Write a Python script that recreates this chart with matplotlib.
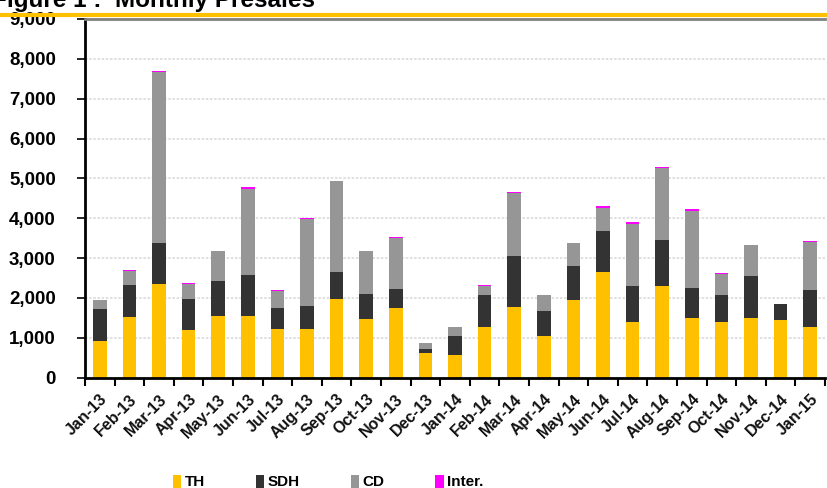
import matplotlib
matplotlib.use('Agg')
from matplotlib import pyplot as plt
from matplotlib.lines import Line2D
import numpy as np

plt.rcParams['font.family'] = ['Liberation Sans', 'DejaVu Sans']
plt.rcParams['font.weight'] = 'bold'

months = ['Jan-13', 'Feb-13', 'Mar-13', 'Apr-13', 'May-13', 'Jun-13', 'Jul-13',
          'Aug-13', 'Sep-13', 'Oct-13', 'Nov-13', 'Dec-13', 'Jan-14', 'Feb-14',
          'Mar-14', 'Apr-14', 'May-14', 'Jun-14', 'Jul-14', 'Aug-14', 'Sep-14',
          'Oct-14', 'Nov-14', 'Dec-14', 'Jan-15']

# presales by segment
th = [920, 1520, 2350, 1195, 1545, 1545, 1220, 1220, 1970, 1470, 1745, 615,
      565, 1270, 1770, 1045, 1945, 2650, 1395, 2300, 1495, 1395, 1495, 1445, 1270]
sdh = [800, 805, 1030, 775, 880, 1030, 525, 575, 680, 630, 480, 100,
       480, 805, 1280, 625, 855, 1030, 905, 1155, 755, 680, 1055, 400, 930]
cd = [225, 350, 4295, 380, 755, 2160, 425, 2185, 2285, 1080, 1280, 150,
      225, 225, 1585, 400, 580, 580, 1560, 1810, 1935, 530, 780, 0, 1205]
inter = [0, 25, 20, 25, 0, 50, 25, 25, 0, 0, 25, 0,
         0, 25, 25, 0, 0, 50, 50, 25, 50, 25, 0, 0, 25]

series = [('TH', th, '#FFC000'), ('SDH', sdh, '#333333'),
          ('CD', cd, '#969696'), ('Inter.', inter, '#FF00FF')]

fig = plt.figure(figsize=(8.27, 4.88), dpi=100)
ax = fig.add_axes([85 / 827, 110.5 / 488, 740 / 827, 358.5 / 488])

x = np.arange(len(months))
bottom = np.zeros(len(months))
for name, vals, col in series:
    vals = np.array(vals, dtype=float)
    ax.bar(x, vals, width=0.46, bottom=bottom, color=col, label=name, zorder=2)
    bottom += vals

ax.set_xlim(-0.5, len(months) - 0.5)
ax.set_ylim(0, 9000)
ax.set_yticks(np.arange(0, 9001, 1000))
ax.set_yticklabels(['{:,}'.format(v) for v in range(0, 9001, 1000)], fontsize=13.5, fontweight='bold')
ax.yaxis.grid(True, color='#dadada', linestyle=(0, (1.5, 1)), linewidth=1.2, zorder=0)
ax.set_axisbelow(True)

# ticks between categories, labels at centres
ax.set_xticks(np.arange(-0.5, len(months), 1.0))
ax.set_xticklabels([])
ax.set_xticks(x, minor=True)
ax.set_xticklabels(months, minor=True, rotation=45, ha='right', rotation_mode='anchor',
                   fontsize=11.5, fontweight='bold', color='#111111')
ax.tick_params(axis='x', which='minor', length=0, pad=10)
ax.tick_params(axis='x', which='major', length=6, width=1.5, direction='out')
ax.tick_params(axis='y', length=6, width=1.2, direction='out', pad=15)

ax.spines['right'].set_visible(False)
ax.spines['top'].set_color('#808080')
ax.spines['top'].set_linewidth(2)
ax.spines['left'].set_linewidth(2)
ax.spines['bottom'].set_linewidth(2)

# title band
fig.text(-8 / 827, 1 - 7 / 488, 'Figure 1 :  Monthly Presales', fontsize=17.5, fontweight='bold',
         va='baseline', ha='left')
fig.add_artist(Line2D([0, 1], [1 - 15 / 488, 1 - 15 / 488], color='#FFC000', linewidth=3,
                      transform=fig.transFigure))

leg = fig.legend(loc='center', bbox_to_anchor=(0.397, 6 / 488), ncol=4, frameon=False,
                 fontsize=11, handlelength=0.55, handleheight=0.95, handletextpad=0.25,
                 columnspacing=3.3)
for t in leg.get_texts():
    t.set_fontweight('bold')

fig.savefig('out.png', dpi=100)
